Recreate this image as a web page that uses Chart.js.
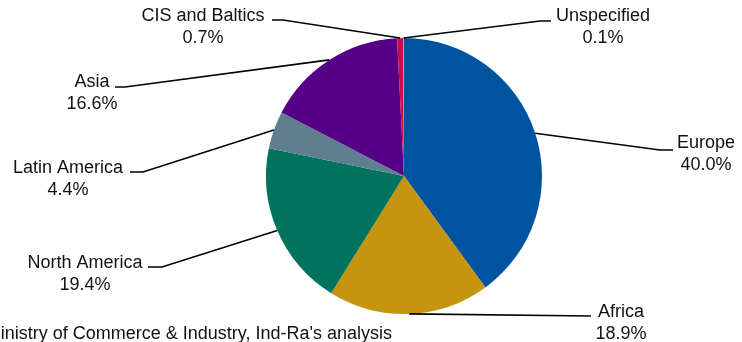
<!DOCTYPE html>
<html>
<head>
<meta charset="utf-8">
<script src="https://cdn.jsdelivr.net/npm/chart.js@4.4.1/dist/chart.umd.min.js"></script>
<style>
  html, body { margin: 0; padding: 0; background: #fff; }
  #wrap { width: 742px; height: 342px; position: relative; }
</style>
</head>
<body>
<div id="wrap"><canvas id="chart"></canvas></div>
<script>
// Export destinations share (%)
const regions = ["Europe", "Africa", "North America", "Latin America", "Asia", "CIS and Baltics", "Unspecified"];
const shares = [40.0, 18.9, 19.4, 4.4, 16.6, 0.7, 0.1];
const colors = ["#00539F", "#C6950F", "#00735F", "#5F7F90", "#560088", "#D0084C", "#8AA6C2"];

// label placement: text centre x, first-line y, elbow point, end of horizontal stub
const labelLayout = [
  { x: 706, y: 143, elbow: [660, 150], stub: [673, 150] },
  { x: 621, y: 312, elbow: [591, 316], stub: [591, 316] },
  { x: 85, y: 263, elbow: [162, 267], stub: [148, 267] },
  { x: 68, y: 168, elbow: [143, 172], stub: [130, 172] },
  { x: 92, y: 82, elbow: [125, 87], stub: [115, 87] },
  { x: 203, y: 16, elbow: [283, 20], stub: [272, 20] },
  { x: 603, y: 16, elbow: [540, 21], stub: [551, 21] }
];

const sourceText = "Source: Ministry of Commerce & Industry, Ind-Ra's analysis";

const labelPlugin = {
  id: "pieLabels",
  afterDraw(chart) {
    const ctx = chart.ctx;
    const meta = chart.getDatasetMeta(0);
    ctx.save();
    meta.data.forEach((arc, i) => {
      const p = arc.getProps(["x", "y", "startAngle", "endAngle", "outerRadius"], true);
      const mid = (p.startAngle + p.endAngle) / 2;
      const sx = p.x + Math.cos(mid) * p.outerRadius;
      const sy = p.y + Math.sin(mid) * p.outerRadius;
      const l = labelLayout[i];
      ctx.strokeStyle = "#000";
      ctx.lineWidth = 1.6;
      ctx.beginPath();
      ctx.moveTo(sx, sy);
      ctx.lineTo(l.elbow[0], l.elbow[1]);
      ctx.lineTo(l.stub[0], l.stub[1]);
      ctx.stroke();

      ctx.fillStyle = "#111";
      ctx.font = "18px 'Liberation Sans', Arial, sans-serif";
      ctx.textAlign = "center";
      ctx.textBaseline = "middle";
      ctx.fillText(regions[i], l.x, l.y);
      ctx.fillText(shares[i].toFixed(1) + "%", l.x, l.y + 22);
    });
    ctx.textAlign = "right";
    ctx.textBaseline = "middle";
    ctx.fillText(sourceText, 392, 334);
    ctx.restore();
  }
};

new Chart(document.getElementById("chart"), {
  type: "pie",
  data: {
    labels: regions,
    datasets: [{
      data: shares,
      backgroundColor: colors,
      borderWidth: 0
    }]
  },
  options: {
    responsive: true,
    maintainAspectRatio: false,
    animation: false,
    layout: { padding: { left: 266, right: 200, top: 38, bottom: 28 } },
    plugins: {
      legend: { display: false },
      tooltip: { enabled: false }
    }
  },
  plugins: [labelPlugin]
});
</script>
</body>
</html>
